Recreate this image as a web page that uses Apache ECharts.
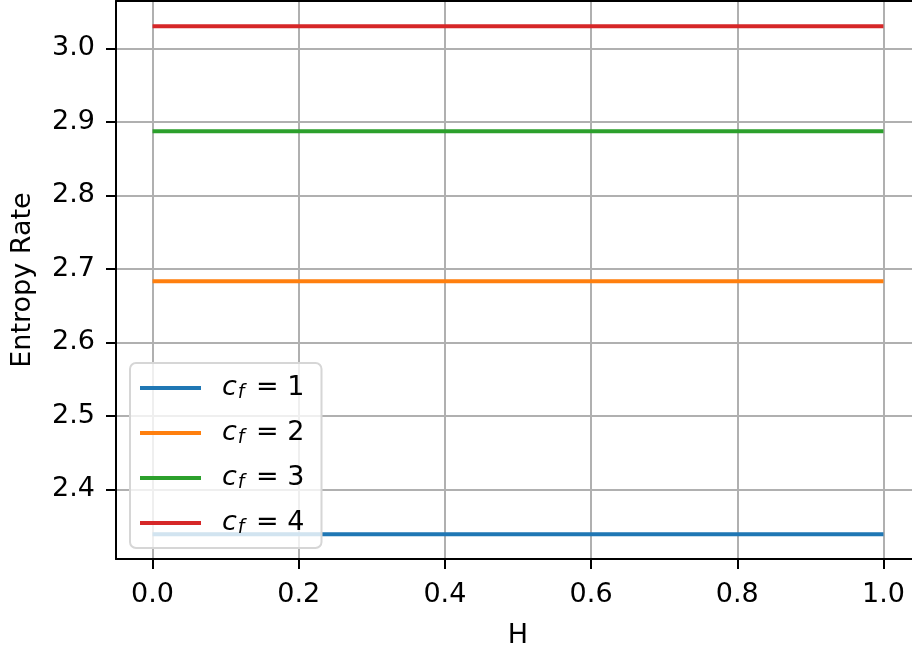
<!DOCTYPE html>
<html>
<head>
<meta charset="utf-8">
<script src="https://cdn.jsdelivr.net/npm/echarts@6/dist/echarts.min.js"></script>
<style>
  html, body { margin: 0; padding: 0; background: #fff; }
  #chart { width: 912px; height: 647px; }
</style>
</head>
<body>
<div id="chart"></div>
<script>
// x values (H)
const hValues = [0.0, 0.1, 0.2, 0.3, 0.4, 0.5, 0.6, 0.7, 0.8, 0.9, 1.0];
// entropy rate per c_f
const cf1 = [2.339, 2.339, 2.339, 2.339, 2.339, 2.339, 2.339, 2.339, 2.339, 2.339, 2.339];
const cf2 = [2.683, 2.683, 2.683, 2.683, 2.683, 2.683, 2.683, 2.683, 2.683, 2.683, 2.683];
const cf3 = [2.887, 2.887, 2.887, 2.887, 2.887, 2.887, 2.887, 2.887, 2.887, 2.887, 2.887];
const cf4 = [3.030, 3.030, 3.030, 3.030, 3.030, 3.030, 3.030, 3.030, 3.030, 3.030, 3.030];
const seriesNames = ['c_f = 1', 'c_f = 2', 'c_f = 3', 'c_f = 4'];
const xTicks = [0.0, 0.2, 0.4, 0.6, 0.8, 1.0];
const yTicks = [2.4, 2.5, 2.6, 2.7, 2.8, 2.9, 3.0];

const colors = ['#1f77b4', '#ff7f0e', '#2ca02c', '#d62728'];
const font = 'DejaVu Sans';

const chart = echarts.init(document.getElementById('chart'));

function pairs(ys) {
  return hValues.map((x, i) => [x, ys[i]]);
}

const option = {
  animation: false,
  color: colors,
  textStyle: { fontFamily: font },
  // plot area runs a little past the right edge of the picture
  grid: { left: 116, top: 1, width: 804, bottom: 88, containLabel: false, outerBoundsMode: 'none' },
  legend: {
    left: 130,
    top: 363,
    orient: 'vertical',
    icon: 'rect',
    itemWidth: 61,
    itemHeight: 4,
    itemGap: 15,
    padding: [10, 17, 10, 10],
    backgroundColor: 'rgba(255,255,255,0.8)',
    borderColor: '#d6d6d6',
    borderWidth: 2,
    borderRadius: 6,
    data: seriesNames,
    formatter: name => '{i|c}{s|f}{e| = ' + name.slice(-1) + '}',
    textStyle: {
      fontSize: 27,
      color: '#000',
      lineHeight: 30,
      padding: [0, 0, 0, 16],
      rich: {
        i: { fontSize: 27, fontStyle: 'italic', fontFamily: font },
        s: { fontSize: 19, fontStyle: 'italic', fontFamily: font, verticalAlign: 'bottom', padding: [10, 3, 0, 1] },
        e: { fontSize: 27, fontFamily: font }
      }
    }
  },
  xAxis: [
    {
      type: 'value',
      min: -0.05,
      max: 1.05,
      name: 'H',
      nameLocation: 'middle',
      nameGap: 63,
      nameTextStyle: { fontSize: 27, color: '#000', fontFamily: font },
      axisLine: { lineStyle: { color: '#000', width: 2 } },
      axisTick: { show: true, length: 10, lineStyle: { color: '#000', width: 2 }, customValues: xTicks },
      axisLabel: {
        fontSize: 27, color: '#000', margin: 22, fontFamily: font,
        customValues: xTicks,
        formatter: v => v.toFixed(1)
      },
      splitLine: { show: true, lineStyle: { color: '#b0b0b0', width: 2 } }
    },
    {
      type: 'value',
      position: 'top',
      min: -0.05,
      max: 1.05,
      axisLine: { lineStyle: { color: '#000', width: 2 } },
      axisTick: { show: false },
      axisLabel: { show: false },
      splitLine: { show: false }
    }
  ],
  yAxis: {
    type: 'value',
    min: 2.3054,
    max: 3.0643,
    name: 'Entropy Rate',
    nameLocation: 'middle',
    nameGap: 80,
    nameTextStyle: { fontSize: 27, color: '#000', fontFamily: font },
    axisLine: { show: true, onZero: false, lineStyle: { color: '#000', width: 2 } },
    axisTick: { show: true, length: 10, lineStyle: { color: '#000', width: 2 }, customValues: yTicks },
    axisLabel: {
      fontSize: 27, color: '#000', margin: 21, fontFamily: font,
      customValues: yTicks,
      formatter: v => v.toFixed(1)
    },
    splitLine: { show: true, lineStyle: { color: '#b0b0b0', width: 2 } }
  },
  series: [cf1, cf2, cf3, cf4].map((ys, i) => ({
    name: seriesNames[i],
    type: 'line',
    showSymbol: false,
    symbol: 'none',
    lineStyle: { width: 4, color: colors[i] },
    data: pairs(ys)
  }))
};

chart.setOption(option);
</script>
</body>
</html>
